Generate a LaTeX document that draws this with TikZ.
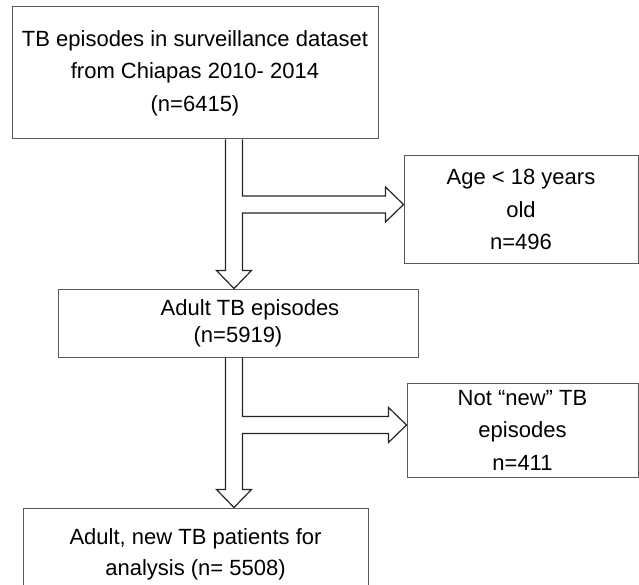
\documentclass[tikz,border=0pt]{standalone}
\usepackage{fontspec}
\setmainfont{Liberation Sans}
\usetikzlibrary{calc}

\begin{document}
\begin{tikzpicture}[x=1pt, y=-1pt,
    every node/.style={inner sep=0pt, align=center, font=\fontsize{22}{32.5}\selectfont},
    box/.style={draw=black!65, line width=1pt},
    blockarrow/.style={draw=black!85, line width=1.2pt, line join=miter}]

\useasboundingbox (0,0) rectangle (639,585);
\clip (0,0) rectangle (639,585);

% All episodes in the dataset
\node[box, minimum width=366pt, minimum height=132pt] (episodes) at (195,73) {TB episodes in surveillance dataset\\from Chiapas 2010- 2014\\(n=6415)};

% Excluded: under 18
\node[box, minimum width=234pt, minimum height=107pt] (minors) at (521,209.5) {Age < 18 years\\old\\n=496};

% Adult episodes - first line sits a bit right of centre
\node[box, minimum width=360pt, minimum height=68pt, font=\fontsize{22}{27}\selectfont] (adult) at (238,323) {\hspace*{24pt}Adult TB episodes\\(n=5919)};

% Excluded: not new
\node[box, minimum width=231pt, minimum height=94pt] (notnew) at (522.5,430) {Not “new” TB\\episodes\\n=411};

% Final cohort - runs off the bottom edge
\node[box, minimum width=345pt, minimum height=92pt, font=\fontsize{22}{31}\selectfont] (final) at (195.5,554) {Adult, new TB patients for\\analysis (n= 5508)};

% Block arrows, one per step
\coordinate (axis) at (234,0);
\foreach \src/\dst/\side in {episodes/adult/minors, adult/final/notnew} {
    \coordinate (a) at (axis |- \src.south);
    \coordinate (b) at (axis |- \dst.north);
    \coordinate (c) at ([yshift=5pt]\side.west);
    \draw[blockarrow] ($(a)+(-8.5,0)$) -- ($(b)+(-8.5,-18)$) -- ($(b)+(-17.5,-18)$) -- (b)
        -- ($(b)+(17.5,-18)$) -- ($(b)+(8.5,-18)$) -- ($(a|-c)+(8.5,8.5)$)
        -- ($(c)+(-18,8.5)$) -- ($(c)+(-18,17.5)$) -- (c) -- ($(c)+(-18,-17.5)$)
        -- ($(c)+(-18,-8.5)$) -- ($(a|-c)+(8.5,-8.5)$) -- ($(a)+(8.5,0)$);
}
\end{tikzpicture}
\end{document}
